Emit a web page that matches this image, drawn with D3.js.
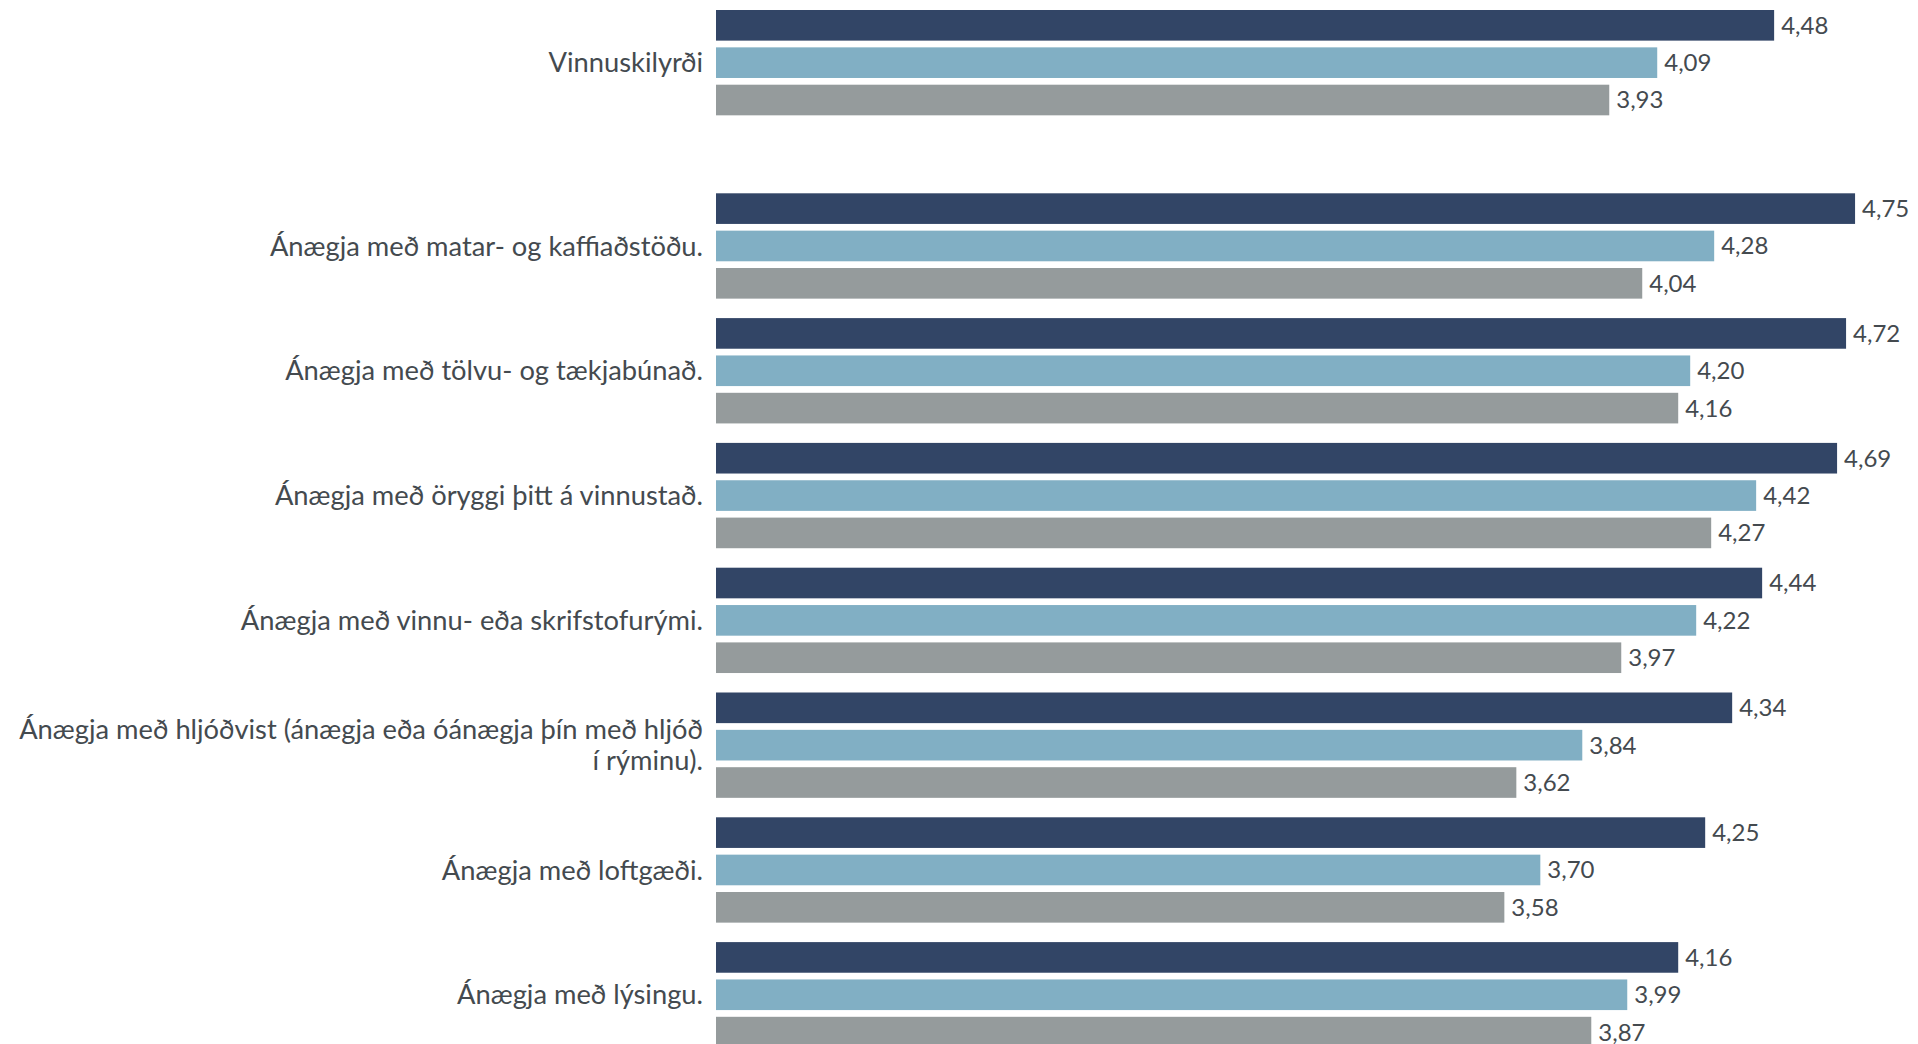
<!DOCTYPE html>
<html>
<head>
<meta charset="utf-8">
<script src="https://cdn.jsdelivr.net/npm/d3@7"></script>
<style>
  html, body { margin: 0; padding: 0; background: #ffffff; }
  svg { display: block; }
  text { font-family: Lato, "Open Sans", sans-serif; fill: #444a4f; }
</style>
</head>
<body>
<svg id="chart" width="1918" height="1044"></svg>
<script>
const categories = [
  "Vinnuskilyrði",
  "Ánægja með matar- og kaffiaðstöðu.",
  "Ánægja með tölvu- og tækjabúnað.",
  "Ánægja með öryggi þitt á vinnustað.",
  "Ánægja með vinnu- eða skrifstofurými.",
  "Ánægja með hljóðvist (ánægja eða óánægja þín með hljóð í rýminu).",
  "Ánægja með loftgæði.",
  "Ánægja með lýsingu."
];
const labelLines = [
  ["Vinnuskilyrði"],
  ["Ánægja með matar- og kaffiaðstöðu."],
  ["Ánægja með tölvu- og tækjabúnað."],
  ["Ánægja með öryggi þitt á vinnustað."],
  ["Ánægja með vinnu- eða skrifstofurými."],
  ["Ánægja með hljóðvist (ánægja eða óánægja þín með hljóð", "í rýminu)."],
  ["Ánægja með loftgæði."],
  ["Ánægja með lýsingu."]
];
const seriesNames = ["Röð 1", "Röð 2", "Röð 3"];
const series1 = [4.48, 4.75, 4.72, 4.69, 4.44, 4.34, 4.25, 4.16];
const series2 = [4.09, 4.28, 4.20, 4.42, 4.22, 3.84, 3.70, 3.99];
const series3 = [3.93, 4.04, 4.16, 4.27, 3.97, 3.62, 3.58, 3.87];
const colors = ["#324566", "#81afc4", "#959b9c"];

const allSeries = [series1, series2, series3];
const svg = d3.select("#chart");

const x = d3.scaleLinear().domain([0.95, 5]).range([716, 1930]);

// Groups after the header row share a regular band scale; the header row sits above with an extra gap
const step = 124.8, pad = 0.156;
const yGroup = d3.scaleBand().domain(categories.slice(1))
  .range([193.3, 193.3 + step * (7 - pad)]).paddingInner(pad).paddingOuter(0).align(0);
const headerGap = 183.3;
const groupTop = i => i === 0 ? yGroup(categories[1]) - headerGap : yGroup(categories[i]);
const y1 = d3.scaleBand().domain(seriesNames).range([0, yGroup.bandwidth()]).paddingInner(0.18).paddingOuter(0);

const fmt = v => d3.format(".2f")(v).replace(".", ",");

const groups = svg.selectAll("g.grp").data(categories).join("g")
  .attr("class", "grp")
  .attr("transform", (d, i) => `translate(0,${groupTop(i)})`);

groups.each(function(cat, i) {
  const g = d3.select(this);
  const rows = seriesNames.map((s, k) => ({ s, k, v: allSeries[k][i] }));
  g.selectAll("rect").data(rows).join("rect")
    .attr("x", x(0.95))
    .attr("y", d => y1(d.s))
    .attr("width", d => x(d.v) - x(0.95))
    .attr("height", y1.bandwidth())
    .attr("fill", d => colors[d.k]);
  g.selectAll("text.val").data(rows).join("text")
    .attr("class", "val")
    .attr("x", d => x(d.v) + 7)
    .attr("y", d => y1(d.s) + y1.bandwidth() / 2)
    .attr("dy", "0.35em")
    .attr("font-size", 24)
    .text(d => fmt(d.v));
  const mid = y1(seriesNames[1]) + y1.bandwidth() / 2;
  const lines = labelLines[i];
  const lh = 31.5;
  const t = g.append("text")
    .attr("class", "cat")
    .attr("text-anchor", "end")
    .attr("font-size", 27.3);
  lines.forEach((ln, j) => {
    t.append("tspan")
      .attr("x", 703)
      .attr("y", mid + (j - (lines.length - 1) / 2) * lh)
      .attr("dy", "0.35em")
      .text(ln);
  });
});
</script>
</body>
</html>
